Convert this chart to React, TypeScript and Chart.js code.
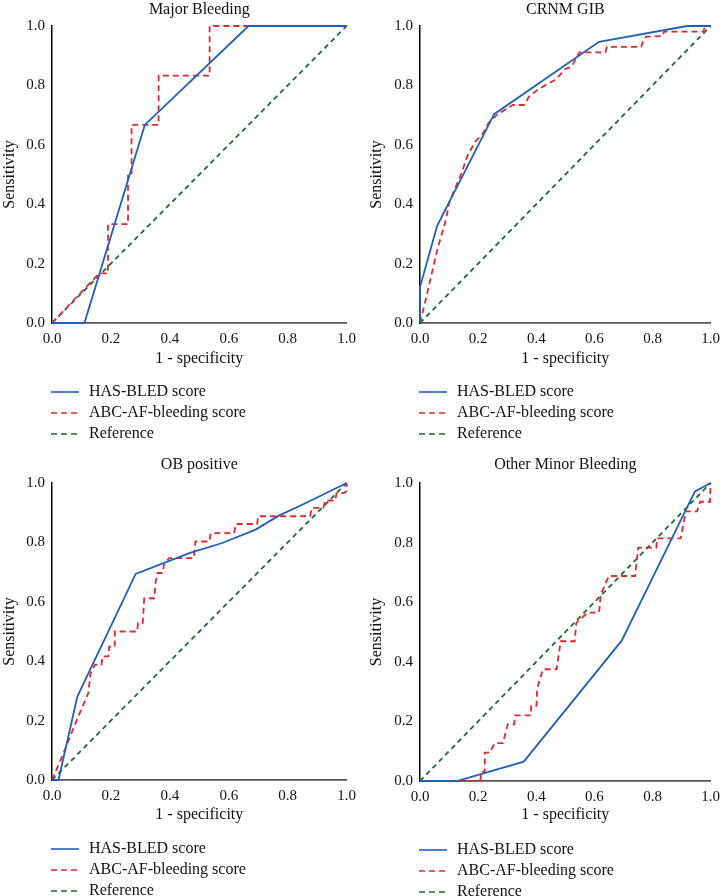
import React, { useEffect, useRef } from "react";
import { Chart, registerables } from "chart.js";

Chart.register(...registerables);

const FONT = '"Liberation Serif", "Times New Roman", serif';

// Axis ticks and legend labels
const tickValues = [0, 0.2, 0.4, 0.6, 0.8, 1.0];
const legendLabels = ["HAS-BLED score", "ABC-AF-bleeding score", "Reference"];
const panelTitles = ["Major Bleeding", "CRNM GIB", "OB positive", "Other Minor Bleeding"];

// Reference diagonal
const refX = [0, 1];
const refY = [0, 1];

// Panel 1: Major Bleeding
const mbHasX = [0, 0.11, 0.315, 0.667, 1];
const mbHasY = [0, 0, 0.667, 1, 1];
const mbAbcX = [0, 0.16, 0.19, 0.19, 0.258, 0.258, 0.27, 0.27, 0.362, 0.362, 0.535, 0.535, 1];
const mbAbcY = [0, 0.167, 0.167, 0.333, 0.333, 0.5, 0.5, 0.667, 0.667, 0.833, 0.833, 1, 1];

// Panel 2: CRNM GIB
const crHasX = [0, 0, 0.059, 0.255, 0.616, 0.919, 1];
const crHasY = [0, 0.121, 0.327, 0.703, 0.947, 1, 1];
const crAbcX = [0, 0.02, 0.059, 0.089, 0.101, 0.128, 0.145, 0.162, 0.19, 0.213, 0.235, 0.263, 0.291, 0.319, 0.358, 0.375, 0.403, 0.43, 0.468, 0.5, 0.52, 0.531, 0.548, 0.638, 0.643, 0.761, 0.767, 0.778, 0.834, 0.84, 0.975, 0.981, 1];
const crAbcY = [0, 0.08, 0.245, 0.347, 0.408, 0.47, 0.51, 0.561, 0.611, 0.633, 0.672, 0.7, 0.717, 0.734, 0.734, 0.762, 0.784, 0.8, 0.82, 0.856, 0.862, 0.88, 0.911, 0.911, 0.93, 0.93, 0.947, 0.964, 0.966, 0.981, 0.981, 1, 1];

// Panel 3: OB positive
const obHasX = [0, 0.022, 0.086, 0.284, 0.466, 0.578, 0.691, 0.77, 0.86, 1];
const obHasY = [0, 0, 0.281, 0.694, 0.764, 0.798, 0.843, 0.89, 0.932, 1];
const obAbcX = [0, 0.039, 0.084, 0.123, 0.131, 0.146, 0.168, 0.171, 0.191, 0.194, 0.213, 0.213, 0.289, 0.292, 0.308, 0.313, 0.347, 0.352, 0.358, 0.375, 0.38, 0.397, 0.481, 0.487, 0.534, 0.539, 0.618, 0.624, 0.696, 0.7, 0.876, 0.882, 0.921, 0.927, 0.961, 0.966, 0.99, 1, 1];
const obAbcY = [0, 0.09, 0.202, 0.292, 0.36, 0.388, 0.388, 0.416, 0.416, 0.449, 0.449, 0.5, 0.5, 0.528, 0.528, 0.612, 0.612, 0.668, 0.697, 0.697, 0.725, 0.747, 0.747, 0.803, 0.803, 0.831, 0.831, 0.862, 0.862, 0.888, 0.888, 0.916, 0.916, 0.941, 0.941, 0.966, 0.966, 0.972, 1];

// Panel 4: Other Minor Bleeding
const omHasX = [0, 0.127, 0.357, 0.694, 0.946, 1];
const omHasY = [0, 0, 0.065, 0.471, 0.972, 1];
const omAbcX = [0, 0.207, 0.212, 0.223, 0.223, 0.24, 0.257, 0.285, 0.302, 0.324, 0.327, 0.381, 0.383, 0.401, 0.403, 0.423, 0.47, 0.484, 0.532, 0.538, 0.577, 0.616, 0.622, 0.65, 0.74, 0.751, 0.813, 0.816, 0.897, 0.903, 0.914, 0.953, 0.964, 0.998, 1];
const omAbcY = [0, 0, 0.031, 0.031, 0.095, 0.095, 0.127, 0.127, 0.19, 0.19, 0.22, 0.22, 0.253, 0.253, 0.31, 0.375, 0.375, 0.469, 0.469, 0.531, 0.565, 0.565, 0.626, 0.688, 0.688, 0.783, 0.783, 0.814, 0.814, 0.845, 0.905, 0.905, 0.937, 0.937, 1];

const BLUE = "#1f5fbf";
const RED = "#e8262d";
const GREEN = "#1e6b30";

const seriesStyles = [
  { color: BLUE, dash: [] as number[] },
  { color: RED, dash: [6, 4] },
  { color: GREEN, dash: [5, 4] },
];

const zip = (xs: number[], ys: number[]) => xs.map((x, i) => ({ x, y: ys[i] }));

const legendPlugin = {
  id: "rocLegend",
  afterDraw(chart: any) {
    const { ctx, chartArea } = chart;
    ctx.save();
    legendLabels.forEach((label, i) => {
      const y = chartArea.bottom + 69 + i * 21;
      const st = seriesStyles[i];
      ctx.beginPath();
      ctx.setLineDash(st.dash.length ? [6, 4] : []);
      ctx.strokeStyle = st.color;
      ctx.lineWidth = 1.6;
      ctx.moveTo(chartArea.left - 1, y);
      ctx.lineTo(chartArea.left + 27, y);
      ctx.stroke();
      ctx.setLineDash([]);
      ctx.fillStyle = "#111";
      ctx.font = `16px ${FONT}`;
      ctx.textBaseline = "middle";
      ctx.textAlign = "left";
      ctx.fillText(label, chartArea.left + 37, y);
    });
    ctx.restore();
  },
};

type PanelProps = {
  title: string;
  hasX: number[];
  hasY: number[];
  abcX: number[];
  abcY: number[];
  left: number;
  top: number;
  width: number;
  height: number;
  chartLeft: number;
  chartRight: number;
  chartTop: number;
  chartBottom: number;
  titleCenter: number;
  xTitleCenter: number;
};

function Panel(p: PanelProps) {
  const ref = useRef<HTMLCanvasElement | null>(null);
  useEffect(() => {
    if (!ref.current) return;
    const lh = 19.2;
    const titlePadTop = Math.max(0, p.titleCenter - lh / 2);
    const titlePadBottom = p.chartTop - lh - titlePadTop;
    const xTitlePadBottom = p.height - p.xTitleCenter - lh / 2;
    const yTitlePad = Math.max(0, p.chartLeft - 43 - lh / 2);
    const chart = new Chart(ref.current, {
      type: "scatter",
      data: {
        datasets: [
          {
            label: legendLabels[0],
            data: zip(p.hasX, p.hasY),
            showLine: true,
            borderColor: BLUE,
            backgroundColor: BLUE,
            borderWidth: 1.8,
            pointRadius: 0,
            clip: false,
          },
          {
            label: legendLabels[1],
            data: zip(p.abcX, p.abcY),
            showLine: true,
            borderColor: RED,
            backgroundColor: RED,
            borderWidth: 1.8,
            borderDash: [6, 4],
            pointRadius: 0,
            clip: false,
          },
          {
            label: legendLabels[2],
            data: zip(refX, refY),
            showLine: true,
            borderColor: GREEN,
            backgroundColor: GREEN,
            borderWidth: 1.8,
            borderDash: [5, 4],
            pointRadius: 0,
            clip: false,
          },
        ],
      },
      options: {
        responsive: false,
        animation: false,
        devicePixelRatio: 1,
        layout: { padding: { left: 0, right: p.width - p.chartRight, top: 0, bottom: 0 } },
        plugins: {
          legend: { display: false },
          tooltip: { enabled: false },
          title: {
            display: true,
            text: p.title,
            fullSize: false,
            color: "#111",
            font: { family: FONT, size: 16, weight: "normal", lineHeight: 1.2 },
            padding: { top: titlePadTop, bottom: titlePadBottom },
          },
        },
        scales: {
          x: {
            type: "linear",
            min: 0,
            max: 1,
            afterBuildTicks: (s: any) => {
              s.ticks = tickValues.map((v) => ({ value: v }));
            },
            afterFit: (s: any) => {
              s.height = p.height - p.chartBottom;
            },
            grid: { display: false, drawTicks: false },
            border: { display: true, color: "#555", width: 1.8 },
            ticks: {
              padding: 7,
              color: "#111",
              font: { family: FONT, size: 15 },
              callback: (v: any) => Number(v).toFixed(1),
              maxRotation: 0,
            },
            title: {
              display: true,
              text: "1 - specificity",
              color: "#111",
              font: { family: FONT, size: 16, lineHeight: 1.2 },
              padding: { top: 0, bottom: xTitlePadBottom },
            },
          },
          y: {
            type: "linear",
            min: 0,
            max: 1,
            afterBuildTicks: (s: any) => {
              s.ticks = tickValues.map((v) => ({ value: v }));
            },
            afterFit: (s: any) => {
              s.width = p.chartLeft;
            },
            grid: { display: false, drawTicks: false },
            border: { display: true, color: "#000", width: 1.5 },
            ticks: {
              padding: 7,
              color: "#111",
              font: { family: FONT, size: 15 },
              callback: (v: any) => Number(v).toFixed(1),
            },
            title: {
              display: true,
              text: "Sensitivity",
              color: "#111",
              font: { family: FONT, size: 16, lineHeight: 1.2 },
              padding: { top: yTitlePad, bottom: 0 },
            },
          },
        },
      },
      plugins: [legendPlugin],
    } as any);
    return () => chart.destroy();
  }, []);
  return (
    <canvas
      ref={ref}
      width={p.width}
      height={p.height}
      style={{ position: "absolute", left: p.left, top: p.top, width: p.width, height: p.height }}
    />
  );
}

export default function App() {
  return (
    <div style={{ position: "absolute", left: 0, top: 0, width: 727, height: 896, background: "#fff", overflow: "hidden" }}>
      <Panel title={panelTitles[0]} hasX={mbHasX} hasY={mbHasY} abcX={mbAbcX} abcY={mbAbcY}
        left={0} top={0} width={363} height={450} chartLeft={52} chartRight={348} chartTop={26} chartBottom={323}
        titleCenter={8} xTitleCenter={359} />
      <Panel title={panelTitles[1]} hasX={crHasX} hasY={crHasY} abcX={crAbcX} abcY={crAbcY}
        left={363} top={0} width={364} height={450} chartLeft={57} chartRight={354} chartTop={26} chartBottom={323}
        titleCenter={8} xTitleCenter={359} />
      <Panel title={panelTitles[2]} hasX={obHasX} hasY={obHasY} abcX={obAbcX} abcY={obAbcY}
        left={0} top={450} width={363} height={446} chartLeft={52} chartRight={348} chartTop={33} chartBottom={330}
        titleCenter={15} xTitleCenter={365} />
      <Panel title={panelTitles[3]} hasX={omHasX} hasY={omHasY} abcX={omAbcX} abcY={omAbcY}
        left={363} top={450} width={364} height={446} chartLeft={57} chartRight={354} chartTop={33} chartBottom={331}
        titleCenter={15} xTitleCenter={365} />
    </div>
  );
}
